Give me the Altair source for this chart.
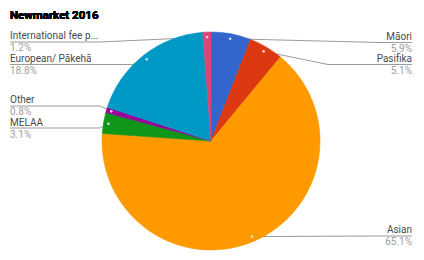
import altair as alt
import pandas as pd
import numpy as np

# ---- data ----
categories = ["Māori", "Pasifika", "Asian", "MELAA", "Other", "European/ Pākehā", "International fee paying"]
display_names = ["Māori", "Pasifika", "Asian", "MELAA", "Other", "European/ Pākehā", "International fee p..."]
shares = [5.9, 5.1, 65.1, 3.1, 0.8, 18.8, 1.2]
pct_labels = ["5.9%", "5.1%", "65.1%", "3.1%", "0.8%", "18.8%", "1.2%"]
colors = ["#3366cc", "#dc3912", "#ff9900", "#109618", "#990099", "#0099c6", "#dd4477"]

# ---- layout ----
W, H = 424, 260
CX, CY, R = 211, 141, 109
DOT_R = 104
side = ["right", "right", "right", "left", "left", "left", "left"]
name_y = [39.5, 62, 233, 126, 103, 62, 39]
line_y = [42.5, 64.5, 236, 128, 106, 64.5, 42]
elbow_x = [380, 328, 380, 100, 100, 133, 100]
EDGE = {"right": 412, "left": 10}

s = np.array(shares, dtype=float)
mid = (np.cumsum(s) - s / 2) / s.sum() * 2 * np.pi
dot_x = CX + DOT_R * np.sin(mid)
dot_y = CY - DOT_R * np.cos(mid)

pie_df = pd.DataFrame({"cat": categories, "share": shares, "idx": range(len(categories))})

lab_df = pd.DataFrame({
    "cat": categories, "name": display_names, "pct": pct_labels, "side": side,
    "x": [EDGE[sd] for sd in side], "ny": name_y,
    "py": [v + 12 for v in name_y],
    "dx": dot_x, "dy": dot_y,
})

rows = []
for i, c in enumerate(categories):
    e = EDGE[side[i]]
    rows.append({"cat": c, "pt": 0, "x": dot_x[i], "y": dot_y[i]})
    rows.append({"cat": c, "pt": 1, "x": elbow_x[i], "y": line_y[i]})
    rows.append({"cat": c, "pt": 2, "x": e, "y": line_y[i]})
line_df = pd.DataFrame(rows)

xs = alt.Scale(domain=[0, W], range=[0, W])
ys = alt.Scale(domain=[0, H], range=[0, H])
cscale = alt.Scale(domain=categories, range=colors)

pie = alt.Chart(pie_df).mark_arc(outerRadius=R, strokeWidth=0.6).encode(
    theta=alt.Theta("share:Q", stack=True),
    order=alt.Order("idx:Q"),
    color=alt.Color("cat:N", scale=cscale, legend=None),
    stroke=alt.Stroke("cat:N", scale=cscale, legend=None),
    x=alt.value(CX), y=alt.value(CY),
)

lines = alt.Chart(line_df).mark_line(color="#8a8a8a", strokeWidth=1, opacity=0.85).encode(
    x=alt.X("x:Q", scale=xs, axis=None),
    y=alt.Y("y:Q", scale=ys, axis=None),
    detail="cat:N",
    order="pt:Q",
)

dots = alt.Chart(lab_df).mark_circle(size=7, color="#e6e6e6", opacity=0.9).encode(
    x=alt.X("dx:Q", scale=xs, axis=None),
    y=alt.Y("dy:Q", scale=ys, axis=None),
)

def labels(sd, align):
    base = alt.Chart(lab_df).transform_filter(alt.datum.side == sd)
    n = base.mark_text(align=align, baseline="alphabetic", font="Roboto", fontSize=10, color="#4a4a4a").encode(
        x=alt.X("x:Q", scale=xs, axis=None),
        y=alt.Y("ny:Q", scale=ys, axis=None),
        text="name:N",
    )
    p = base.mark_text(align=align, baseline="alphabetic", font="Roboto", fontSize=10, color="#a0a0a0").encode(
        x=alt.X("x:Q", scale=xs, axis=None),
        y=alt.Y("py:Q", scale=ys, axis=None),
        text="pct:N",
    )
    return n + p

title = alt.Chart(pie_df).mark_text(
    align="left", baseline="alphabetic", font="Roboto", fontSize=11.5, fontWeight="bold", color="#000000"
).encode(x=alt.value(10), y=alt.value(19), text=alt.value("Newmarket 2016"))

chart = alt.layer(lines, pie, dots, labels("right", "right"), labels("left", "left"), title).properties(
    width=W, height=H, autosize=alt.AutoSizeParams(type="none"), padding=0
).configure_view(strokeWidth=0)

chart.save("out.html", embed_options={"renderer": "svg", "actions": False})
